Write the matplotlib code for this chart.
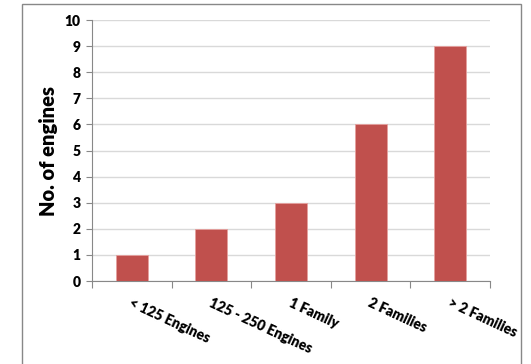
import numpy as np
import matplotlib.pyplot as plt
from matplotlib.patches import Rectangle

categories = ["< 125 Engines", "125 - 250 Engines", "1 Family", "2 Families", "> 2 Families"]
engines = [1, 2, 3, 6, 9]
yticks = list(range(0, 11))

plt.rcParams["font.family"] = ["Lato", "DejaVu Sans"]

fig = plt.figure(figsize=(5.31, 3.64), dpi=100)
ax = fig.add_axes([0.173, 0.228, 0.750, 0.717])

x = np.arange(len(categories))
ax.bar(x, engines, width=0.4, color="#C0504D", edgecolor="#E6A09E", linewidth=0.6, zorder=3)

ax.set_xlim(-0.5, len(categories) - 0.5)
ax.set_ylim(0, 10)
ax.set_yticks(yticks)
ax.set_yticklabels([str(t) for t in yticks], fontsize=10, fontweight="heavy")
ax.yaxis.grid(True, color="#D9D9D9", linewidth=1.0, zorder=0)

# category boundaries get the tick marks, labels sit at the centres
ax.set_xticks(np.arange(len(categories) + 1) - 0.5)
ax.set_xticklabels([])
ax.tick_params(axis="x", length=5, color="#888888", width=0.8)
ax.tick_params(axis="y", length=4, color="#888888", width=0.8, pad=4)
for xi, name in zip(x, categories):
    ax.text(xi - 0.02, -0.8, name, rotation=-25, rotation_mode="anchor",
            ha="left", va="center", fontsize=10, fontweight="heavy")

for side in ["top", "right"]:
    ax.spines[side].set_visible(False)
for side in ["left", "bottom"]:
    ax.spines[side].set_color("#888888")
    ax.spines[side].set_linewidth(0.8)

ax.set_ylabel("No. of engines", fontsize=14.5, fontweight="heavy", labelpad=5)

# outer chart frame
fig.patches.append(Rectangle((22 / 531, -0.05), 499 / 531, 1.039, transform=fig.transFigure,
                             fill=False, edgecolor="#888888", linewidth=1.0, clip_on=False))

fig.savefig("out.png", dpi=100)
